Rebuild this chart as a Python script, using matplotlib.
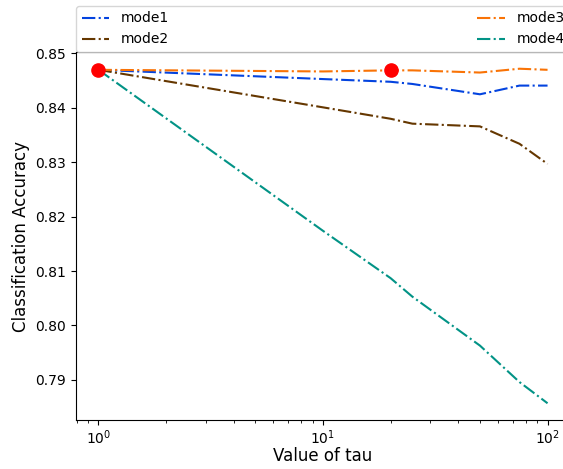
import matplotlib
matplotlib.use("Agg")
import matplotlib.pyplot as plt

tau = [1, 10, 20, 25, 50, 75, 100]
mode1 = [0.8470, 0.8453, 0.8448, 0.8444, 0.8425, 0.8441, 0.8441]
mode2 = [0.8470, 0.8401, 0.8380, 0.8371, 0.8366, 0.8334, 0.8297]
mode3 = [0.8470, 0.8467, 0.8469, 0.8469, 0.8465, 0.8472, 0.8470]
mode4 = [0.8470, 0.8174, 0.8087, 0.8053, 0.7963, 0.7896, 0.7857]
highlight_tau = [1, 20]
highlight_acc = [0.8470, 0.8469]

fig = plt.figure(figsize=(5.63, 4.69), dpi=100)
# axes runs a little past the right edge, like the original crop
ax = fig.add_axes([76/563, 49/469, 494/563, 368/469])

ax.plot(tau, mode1, '-.', color='#0343df', lw=1.5, label='mode1')
ax.plot(tau, mode2, '-.', color='#653700', lw=1.5, label='mode2')
ax.plot(tau, mode3, '-.', color='#f97306', lw=1.5, label='mode3')
ax.plot(tau, mode4, '-.', color='#029386', lw=1.5, label='mode4')
ax.plot(highlight_tau, highlight_acc, 'o', color='red', ms=9.5, zorder=5)

ax.set_xscale('log')
ax.set_xlabel('Value of tau', fontsize=12, labelpad=0)
ax.set_ylabel('Classification Accuracy', fontsize=12)
ax.tick_params(labelsize=10)
ax.tick_params(axis='x', which='major', pad=2.5)

ax.legend(bbox_to_anchor=(0, 1.0, 1, 0.1), loc='lower left', mode='expand',
          ncol=2, borderaxespad=0, fontsize=10)

fig.savefig('out.png', dpi=100)
